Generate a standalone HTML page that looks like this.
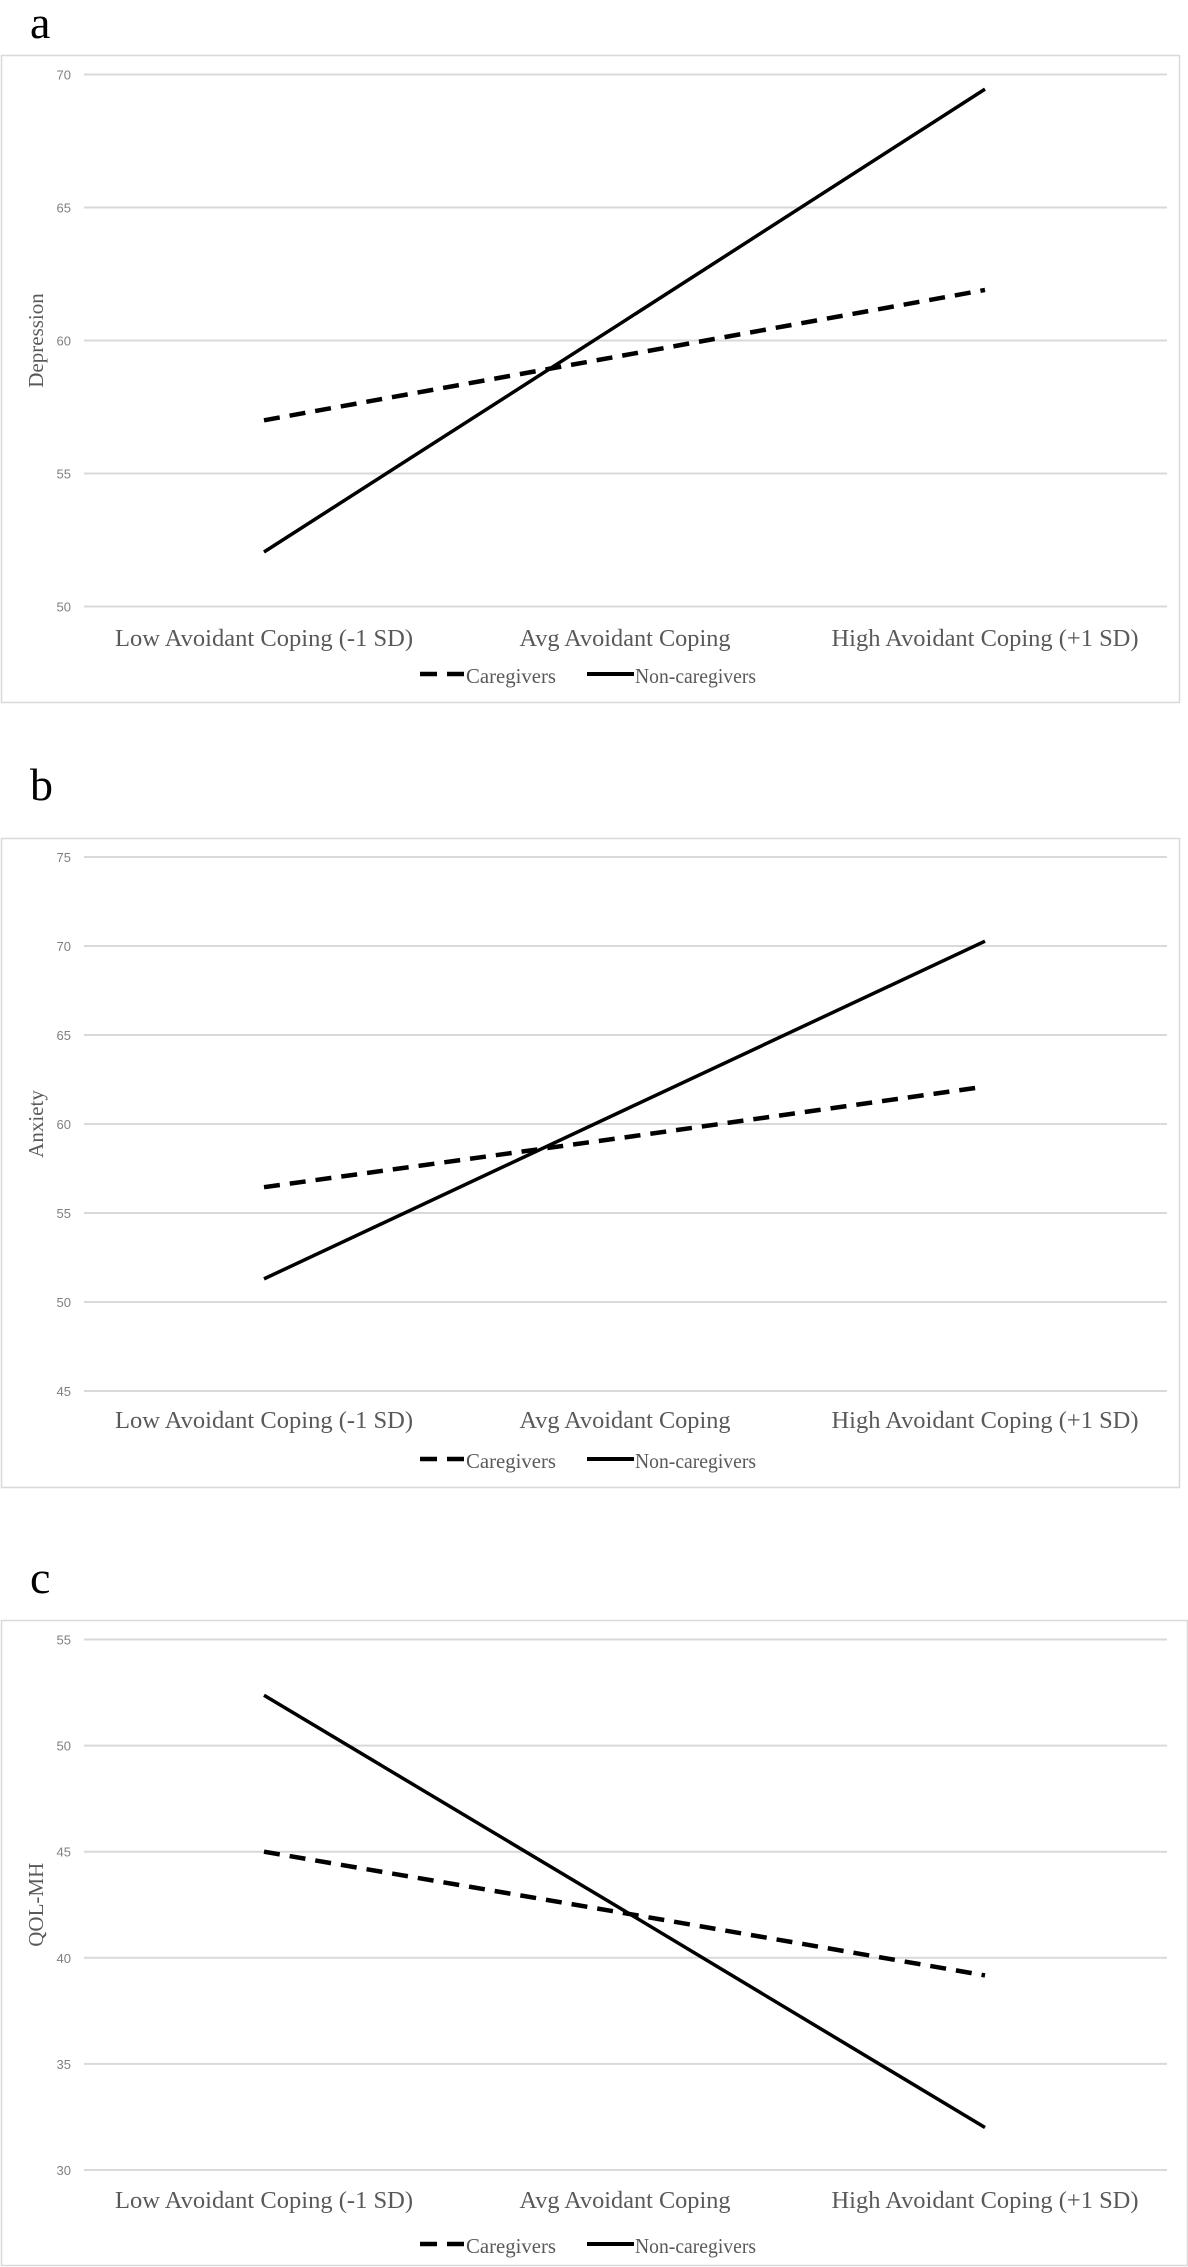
<!DOCTYPE html>
<html><head><meta charset="utf-8"><style>
html,body{margin:0;padding:0;background:#fff;}
svg{display:block;}
</style></head><body>
<svg id="fig" width="1188" height="2267" viewBox="0 0 1188 2267" xmlns="http://www.w3.org/2000/svg"></svg>
<script>
const categories = ["Low Avoidant Coping (-1 SD)", "Avg Avoidant Coping", "High Avoidant Coping (+1 SD)"];
const seriesNames = ["Caregivers", "Non-caregivers"];
const depCaregivers = [57.0, 59.45, 61.9];
const depNonCaregivers = [52.05, 60.75, 69.45];
const depTicks = [50, 55, 60, 65, 70];
const anxCaregivers = [56.45, 59.25, 62.1];
const anxNonCaregivers = [51.3, 60.8, 70.27];
const anxTicks = [45, 50, 55, 60, 65, 70, 75];
const qolCaregivers = [45.0, 42.1, 39.17];
const qolNonCaregivers = [52.37, 42.2, 32.0];
const qolTicks = [30, 35, 40, 45, 50, 55];

const NS = "http://www.w3.org/2000/svg";
const svg = document.getElementById("fig");
function mk(tag, attrs, parent){
  const e = document.createElementNS(NS, tag);
  for (const k in attrs) e.setAttribute(k, attrs[k]);
  (parent || svg).appendChild(e);
  return e;
}
const panels = [
  {letter:"a", letterY:38, box:[1,55,1178,647], yTop:74.5, yBot:606.5, ticks:depTicks, title:"Depression", catY:646, legY:683, car:depCaregivers, non:depNonCaregivers, name:"depression"},
  {letter:"b", letterY:800, box:[1,838,1178,649], yTop:857, yBot:1391, ticks:anxTicks, title:"Anxiety", catY:1428, legY:1468, car:anxCaregivers, non:anxNonCaregivers, name:"anxiety"},
  {letter:"c", letterY:1593, box:[1,1620,1186,645], yTop:1639.5, yBot:2170, ticks:qolTicks, title:"QOL-MH", catY:2208, legY:2253, car:qolCaregivers, non:qolNonCaregivers, name:"qol-mh"}
];
const catX = [264, 625, 985];
const catW = [298, 211, 307];
panels.forEach(p => {
  const g = mk("g", {});
  
  
  const lt = mk("text", {x:30, y:p.letterY, "font-family":"Liberation Serif, serif", "font-size":"46"}, g);
  lt.textContent = p.letter;
  
  
  const bx = mk("rect", {x:p.box[0]+0.5, y:p.box[1]+0.5, width:p.box[2], height:p.box[3], fill:"#fff", stroke:"#d9d9d9", "stroke-width":"1.5"}, g);
  
  
  const tmin = p.ticks[0], tmax = p.ticks[p.ticks.length-1];
  const yS = v => p.yBot - (v - tmin) / (tmax - tmin) * (p.yBot - p.yTop);
  p.ticks.forEach(t => {
    const gl = mk("line", {x1:84, x2:1167, y1:yS(t), y2:yS(t), stroke:"#d9d9d9", "stroke-width":"2"}, g);
    
    
    const tl = mk("text", {x:71, y:yS(t)+5, "text-anchor":"end", "font-family":"Liberation Sans, sans-serif", "font-size":"13", fill:"#7f7f7f"}, g);
    tl.textContent = t;
    
    
  });
  const cy = (p.yTop + p.yBot) / 2;
  const yt = mk("text", {x:0, y:0, transform:"translate(43," + cy + ") rotate(-90)", "text-anchor":"middle", "font-family":"Liberation Serif, serif", "font-size":"21", fill:"#595959"}, g);
  yt.textContent = p.title;
  
  
  categories.forEach((c, i) => {
    const ct = mk("text", {x:catX[i], y:p.catY, "text-anchor":"middle", "font-family":"Liberation Serif, serif", "font-size":"24", fill:"#595959", textLength:catW[i], lengthAdjust:"spacingAndGlyphs"}, g);
    ct.textContent = c;
    
    
  });
  const pts = arr => arr.map((v, i) => catX[i] + "," + yS(v)).join(" ");
  const l1 = mk("polyline", {points:pts(p.car), fill:"none", stroke:"#000", "stroke-width":"4.5", "stroke-dasharray":"16,10"}, g);
  
  
  const l2 = mk("polyline", {points:pts(p.non), fill:"none", stroke:"#000", "stroke-width":"3.5"}, g);
  
  
  const ly = p.legY - 9;
  const d1 = mk("line", {x1:420, x2:464, y1:ly, y2:ly, stroke:"#000", "stroke-width":"4.5", "stroke-dasharray":"17,10"}, g);
  
  
  const t1 = mk("text", {x:466, y:p.legY, "font-family":"Liberation Serif, serif", "font-size":"21", fill:"#595959", textLength:90, lengthAdjust:"spacingAndGlyphs"}, g);
  t1.textContent = seriesNames[0];
  
  
  const d2 = mk("line", {x1:587, x2:634, y1:ly, y2:ly, stroke:"#000", "stroke-width":"4"}, g);
  
  
  const t2 = mk("text", {x:635, y:p.legY, "font-family":"Liberation Serif, serif", "font-size":"21", fill:"#595959", textLength:121, lengthAdjust:"spacingAndGlyphs"}, g);
  t2.textContent = seriesNames[1];
  
  
});
</script>
</body></html>
